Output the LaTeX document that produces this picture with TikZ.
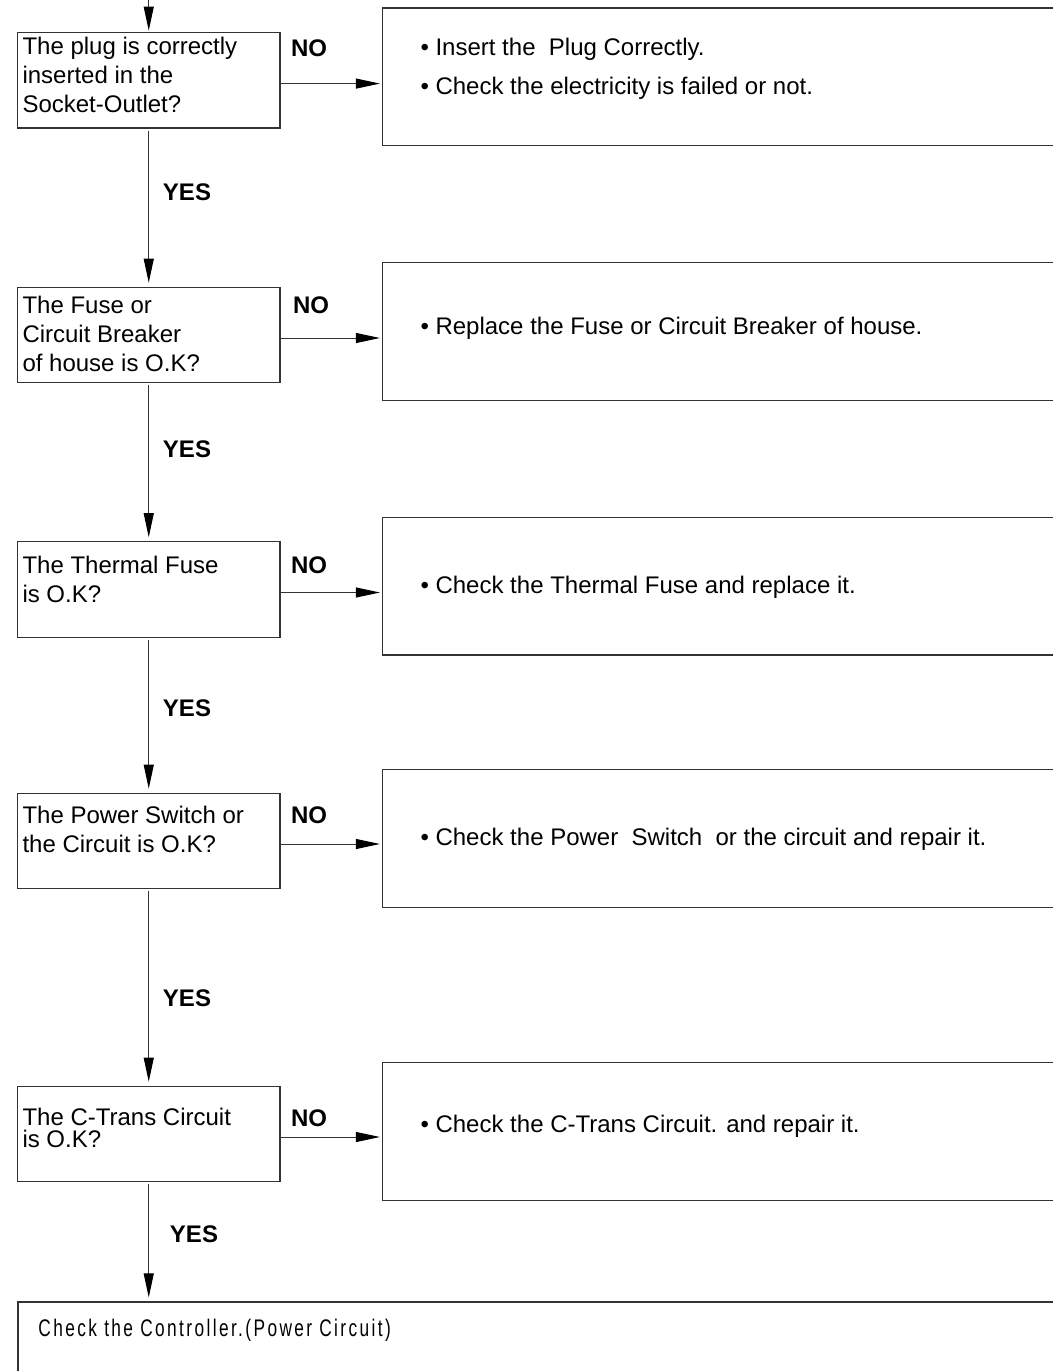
\documentclass[tikz,border=0pt]{standalone}
\usepackage{fontspec}
\setmainfont{Liberation Sans}
\newfontfamily\narrowfont[FakeStretch=0.72,LetterSpace=10]{Liberation Sans}
\usetikzlibrary{arrows.meta}
\begin{document}
\begin{tikzpicture}[x=0.75pt,y=-0.75pt,line width=0.75pt,
  every node/.style={font=\fontsize{18pt}{21.4pt}\selectfont,inner sep=0pt},
  qbox/.style={draw=black!80,line width=0.9pt,minimum width=197pt,minimum height=71.6pt},
  abox/.style={draw=black!80,line width=0.9pt,minimum width=519.4pt,minimum height=103.1pt},
  qtext/.style={anchor=base west,align=left},
  atext/.style={anchor=base west},
  lbl/.style={font=\fontsize{18pt}{21.4pt}\selectfont\bfseries},
  flow/.style={draw=black!80,-{Triangle[length=18pt,width=7.5pt,color=black]}}]
\useasboundingbox (0,0) rectangle (1053,1371);
\clip (0,0) rectangle (1053,1371);
\coordinate (in) at (148.75,-2);
\node[qbox] (q1) at (148.75,80.25) {};
\node[qbox] (q2) at (148.75,335) {};
\node[qbox] (q3) at (148.75,589.5) {};
\node[qbox] (q4) at (148.75,841) {};
\node[qbox] (q5) at (148.75,1134) {};
\node[abox] (r1) at (728.75,76.75) {};
\node[abox] (r2) at (728.75,331.5) {};
\node[abox] (r3) at (728.75,586.25) {};
\node[abox] (r4) at (728.75,838.5) {};
\node[abox] (r5) at (728.75,1131.5) {};
\node[draw=black!80,line width=0.9pt,minimum width=792.75pt,minimum height=88.5pt] (ctrl) at (546.5,1361) {};
\node[qtext] (q1t) at (22,112) {The plug is correctly\\inserted in the\\Socket-Outlet?};
\node[qtext] (q2t) at (22,371) {The Fuse or\\Circuit Breaker\\of house is O.K?};
\node[qtext] (q3t) at (22,602) {The Thermal Fuse\\is O.K?};
\node[qtext] (q4t) at (22,852) {The Power Switch or\\the Circuit is O.K?};
\node[qtext,font=\fontsize{18pt}{16.5pt}\selectfont] (q5t) at (22,1147) {The C-Trans Circuit\\is O.K?};
\node[atext] (r1a) at (420,55) {\textbullet\ Insert the\ \ Plug Correctly.};
\node[atext] (r1b) at (420,94) {\textbullet\ Check the electricity is failed or not.};
\node[atext] (r2t) at (420,334) {\textbullet\ Replace the Fuse or Circuit Breaker of house.};
\node[atext] (r3t) at (420,593) {\textbullet\ Check the Thermal Fuse and replace it.};
\node[atext] (r4t) at (420,845) {\textbullet\ Check the Power\ \ Switch\ \ or the circuit and repair it.};
\node[atext] (r5t) at (420,1132) {\textbullet\ Check the C-Trans Circuit. and repair it.};
\node[atext,font=\fontsize{18pt}{21pt}\narrowfont] (ctrlt) at (38,1336) {Check the Controller.(Power Circuit)};
\node[lbl] (no1) at (309,48) {NO};
\node[lbl] (no2) at (311,305) {NO};
\node[lbl] (no3) at (309,565) {NO};
\node[lbl] (no4) at (309,815) {NO};
\node[lbl] (no5) at (309,1118) {NO};
\node[lbl] (yes1) at (187,192) {YES};
\node[lbl] (yes2) at (187,449) {YES};
\node[lbl] (yes3) at (187,708) {YES};
\node[lbl] (yes4) at (187,998) {YES};
\node[lbl] (yes5) at (194,1234) {YES};
\draw[flow,shorten >=1pt] (in) -- (q1.north);
\begin{scope}[shorten >=3pt,shorten <=1.5pt]
\draw[flow] (q1.south) -- (q2.north);
\draw[flow] (q2.south) -- (q3.north);
\draw[flow] (q3.south) -- (q4.north);
\draw[flow] (q4.south) -- (q5.north);
\draw[flow] (q5.south) -- (q5.south |- ctrl.north);
\end{scope}
\begin{scope}[shorten >=1.5pt]
\draw[flow] ([yshift=-2.5pt]q1.east) -- ([yshift=-2.5pt]q1.east -| r1.west);
\draw[flow] ([yshift=-2.25pt]q2.east) -- ([yshift=-2.25pt]q2.east -| r2.west);
\draw[flow] ([yshift=-2.25pt]q3.east) -- ([yshift=-2.25pt]q3.east -| r3.west);
\draw[flow] ([yshift=-2.25pt]q4.east) -- ([yshift=-2.25pt]q4.east -| r4.west);
\draw[flow] ([yshift=-2.25pt]q5.east) -- ([yshift=-2.25pt]q5.east -| r5.west);
\end{scope}
\end{tikzpicture}
\end{document}
